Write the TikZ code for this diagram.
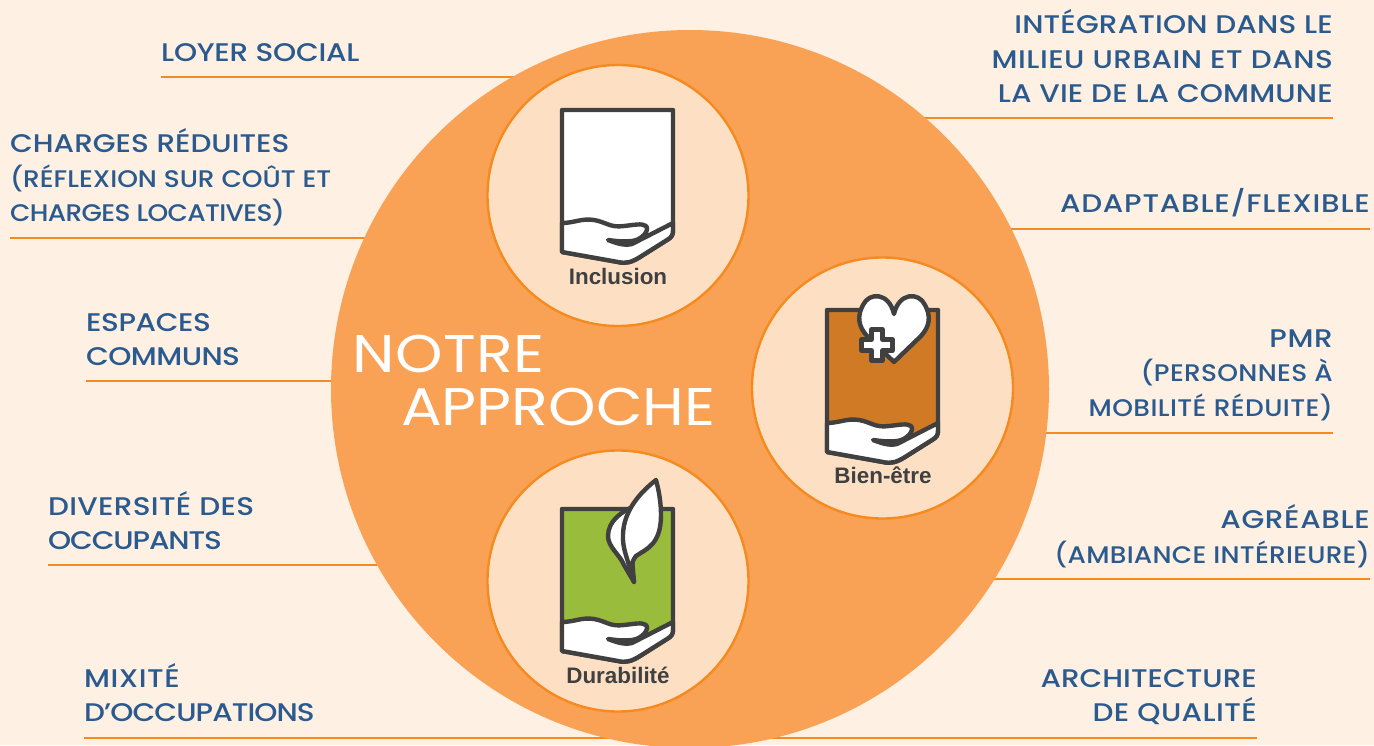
\documentclass[tikz,border=0pt]{standalone}
\usepackage{fontspec}
\setmainfont[FakeStretch=1.155]{Poppins Medium}
\newfontfamily\smfont[FakeStretch=1.10]{Poppins Medium}
\newfontfamily\lightfont[FakeStretch=1.14]{Poppins}
\newfontfamily\iconfont{Liberation Sans}
\definecolor{bgc}{HTML}{FEF0E3}
\definecolor{bigc}{HTML}{F9A155}
\definecolor{smallc}{HTML}{FDE0C4}
\definecolor{linec}{HTML}{F58A1F}
\definecolor{bluec}{HTML}{2A5A8E}
\definecolor{darkc}{HTML}{404040}
\definecolor{brownc}{HTML}{D07A25}
\definecolor{greenc}{HTML}{9ABC3C}
\tikzset{
  x=1pt,y=-1pt,
  lab/.style={inner sep=0pt,text=bluec,font=\fontsize{25.5}{34.5}\selectfont},
  labl/.style={lab,anchor=south west,align=left},
  labr/.style={lab,anchor=south east,align=right},
  rulerline/.style={draw=linec,line width=2.6pt},
  disc/.style={circle,fill=smallc,draw=linec,line width=2.4pt,minimum size=261pt,inner sep=0pt},
  iconline/.style={draw=darkc,line width=4.4pt,line join=round,line cap=round},
  iconcap/.style={inner sep=0pt,text=darkc,font=\iconfont\bfseries\fontsize{22.4}{24}\selectfont},
  titletext/.style={inner sep=0pt,text=white,font=\lightfont\fontsize{53}{53}\selectfont,anchor=base west}
}
\newcommand{\smtxt}{\smfont\fontsize{24}{34.5}\selectfont}
\newcommand{\ls}[2]{{\addfontfeature{LetterSpace=#1}#2}}
\newcommand{\shield}[3]{%
  \begin{scope}[shift={(#1,#2)}]
    \path[iconline,fill=#3] (0,0) -- (111,0) -- (111,120) .. controls (111,125) and (110,127) .. (105,130)
       -- (78,147) .. controls (70,152) and (64,154) .. (56,152) -- (0,142) -- cycle;
    \path[iconline,fill=white] (0,113) .. controls (12,113) and (20,108) .. (32,110)
       .. controls (44,112) and (48,118) .. (62,116)
       .. controls (72,115) and (80,113) .. (84,116)
       .. controls (88,120) and (80,130) .. (70,131)
       .. controls (60,132) and (54,131) .. (46,130)
       .. controls (54,133) and (62,136) .. (70,134)
       -- (111,113) -- (111,120) .. controls (111,125) and (110,127) .. (105,130)
       -- (78,147) .. controls (70,152) and (64,154) .. (56,152) -- (0,142) -- cycle;
  \end{scope}}
\begin{document}
\begin{tikzpicture}
\useasboundingbox[fill=bgc] (0,0) rectangle (1374,745);
% rule end points
\coordinate (a1) at (161,77);   \coordinate (b1) at (520,77);
\coordinate (a2) at (10,238);   \coordinate (b2) at (370,238);
\coordinate (a3) at (86,381);   \coordinate (b3) at (340,381);
\coordinate (a4) at (48,565);   \coordinate (b4) at (385,565);
\coordinate (a5) at (84,738);   \coordinate (b5) at (610,738);
\coordinate (a6) at (1333,118); \coordinate (b6) at (920,118);
\coordinate (a7) at (1370,229); \coordinate (b7) at (1005,229);
\coordinate (a8) at (1333,433); \coordinate (b8) at (1040,433);
\coordinate (a9) at (1370,579); \coordinate (b9) at (988,579);
\coordinate (a10) at (1257,738);\coordinate (b10) at (770,738);
\foreach \i in {1,...,10} \draw[rulerline] (a\i) -- (b\i);
% labels
\node[labl] (t1) at (161,62) {\ls{-1}{LOYER SOCIAL}};
\node[labl] (t2) at (10,226.5) {CHARGES RÉDUITES\\{\smtxt (RÉFLEXION SUR COÛT ET}\\{\smtxt \ls{-2.8}{CHARGES LOCATIVES)}}};
\node[labl] (t3) at (86,366) {\ls{-1.7}{ESPACES}\\\ls{-2.2}{COMMUNS}};
\node[labl] (t4) at (48,550) {\ls{1.2}{DIVERSITÉ DES}\\\ls{-4.4}{OCCUPANTS}};
\node[labl] (t5) at (84,722) {\ls{2}{MIXITÉ}\\\ls{-3.6}{D’OCCUPATIONS}};
\node[labr] (t6) at (1333,103) {\ls{0.6}{INTÉGRATION DANS LE}\\\ls{1.9}{MILIEU URBAIN ET DANS}\\\ls{0.6}{LA VIE DE LA COMMUNE}};
\node[labr] (t7) at (1370,217) {\ls{3}{ADAPTABLE/FLEXIBLE}};
\node[labr] (t8) at (1333,421) {\ls{2.6}{PMR}\\{\smtxt \ls{1.3}{(PERSONNES À}}\\{\smtxt \ls{1.7}{MOBILITÉ RÉDUITE)}}};
\node[labr] (t9) at (1370,568) {\ls{2.5}{AGRÉABLE}\\{\smtxt \ls{1}{(AMBIANCE INTÉRIEURE)}}};
\node[labr] (t10) at (1257,725) {ARCHITECTURE\\\ls{1.6}{DE QUALITÉ}};
% circles
\node[circle,fill=bigc,minimum size=718pt,inner sep=0pt] (main) at (690,389) {};
\node[disc] (d1) at (618,195.5) {};
\node[disc] (d2) at (882.5,388) {};
\node[disc] (d3) at (618,581) {};
% icons
\shield{562}{110}{white}
\shield{827}{310}{brownc}
\shield{562}{509}{greenc}
% heart and cross
\begin{scope}[shift={(827,310)}]
  \path[iconline,fill=white] (67,52) -- (40,26) .. controls (31,16) and (30,6) .. (36,-5)
     .. controls (42,-18) and (62,-18) .. (67,4)
     .. controls (72,-18) and (92,-18) .. (98,-5)
     .. controls (104,6) and (103,16) .. (94,26) -- cycle;
  \path[iconline,fill=white] (44.5,19.5) -- (55.5,19.5) -- (55.5,29.5) -- (65.5,29.5) -- (65.5,40.5) -- (55.5,40.5)
     -- (55.5,50.5) -- (44.5,50.5) -- (44.5,40.5) -- (34.5,40.5) -- (34.5,29.5) -- (44.5,29.5) -- cycle;
\end{scope}
% leaf
\begin{scope}[shift={(562,509)}]
  \path[iconline,fill=white] (73,-3) .. controls (60,2) and (46,12) .. (46,27)
     .. controls (46,38) and (58,46) .. (62,56) -- (72,73) -- (70,50) -- (75,10) -- cycle;
  \path[iconline,fill=white] (94,-29) .. controls (80,-18) and (62,0) .. (61,25)
     .. controls (60,40) and (66,50) .. (72,73)
     .. controls (70,62) and (68,54) .. (74,47)
     .. controls (84,40) and (99,36) .. (99,6)
     .. controls (99,-6) and (97,-18) .. (94,-29) -- cycle;
\end{scope}
% captions
\node[iconcap] (c1) at (618,276) {Inclusion};
\node[iconcap] (c2) at (883,475) {Bien-être};
\node[iconcap] (c3) at (618,675) {Durabilité};
% title
\node[titletext] (n1) at (352,372) {\ls{1}{NOTRE}};
\node[titletext] (n2) at (401,425.5) {APPROCHE};
\end{tikzpicture}
\end{document}
